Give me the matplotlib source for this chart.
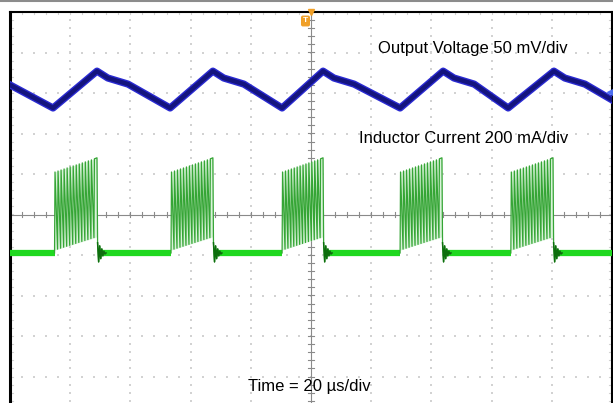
import numpy as np
import matplotlib.pyplot as plt
from matplotlib.lines import Line2D

# scope settings
t_per_div = 20.0     # us/div
v_per_div = 50.0     # mV/div
i_per_div = 200.0    # mA/div
ch1_pos = 3.08       # div, output voltage trace position
ch2_pos = -0.95      # div, inductor current trace position

# output voltage ripple (mV around its mean), corners of the triangle wave
vout_t = [-100, -85.7,
          -71.1, -67.5, -60.8, -46.8,
          -32.6, -29.0, -22.3, -9.6,
          4.0, 7.6, 14.3, 29.6,
          43.9, 47.5, 54.2, 65.5,
          80.7, 84.3, 91.0, 100]
vout_mv = [6, -22.5,
           23, 14.5, 7, -22.5,
           23, 14.5, 7, -22.5,
           23, 14.5, 7, -22.5,
           23, 14.5, 7, -22.5,
           23, 14.5, 7, -12.5]

# inductor current bursts (us) and their envelopes (mA)
burst_start = [-85.2, -46.5, -9.6, 29.6, 66.4]
burst_end = [-71.1, -32.6, 4.0, 43.5, 80.4]
n_pulses = 14
il_peak = [400, 470]     # upper envelope, start / end of burst
il_valley = [14, 80]     # lower envelope, start / end of burst
il_idle = 0
ring_ma = [50, -44, 35, -28, 20, -14, 9, -5, 0]

W, H = 613, 403
fig = plt.figure(figsize=(W / 100, H / 100), dpi=100)
plt.rcParams['font.family'] = ['Liberation Sans', 'DejaVu Sans']

ax = fig.add_axes([10 / W, 0, 602 / W, 391 / H])
ybot = 5 - 391 / 40.5
ax.set_xlim(-100, 100)
ax.set_ylim(ybot, 5)
ax.set_xticks([])
ax.set_yticks([])
for s in ['top', 'right']:
    ax.spines[s].set_linewidth(1.5)
ax.spines['left'].set_linewidth(2.2)
ax.spines['bottom'].set_visible(False)

# graticule dots
gc = '#d2d2d2'
xd = np.arange(-100, 100.1, 4)
yd = np.arange(-5, 5.01, 0.2)
for gx in np.arange(-80, 81, 20):
    if gx == 0:
        continue
    ax.scatter(np.full(len(yd), gx), yd, s=2, marker='s', color=gc, lw=0, zorder=1)
for gy in range(-4, 5):
    if gy == 0:
        continue
    ax.scatter(xd, np.full(len(xd), gy), s=2, marker='s', color=gc, lw=0, zorder=1)
# edge ticks
for yy in yd:
    ax.plot([-100, -99], [yy, yy], color=gc, lw=0.8, zorder=1)
    ax.plot([99, 100], [yy, yy], color=gc, lw=0.8, zorder=1)
for xx in xd:
    ax.plot([xx, xx], [4.95, 5], color=gc, lw=0.8, zorder=1)

# center cross with ticks
cc = '#8a8a8a'
ax.axvline(0, color=cc, lw=0.8, zorder=1)
ax.axhline(0, color=cc, lw=0.8, zorder=1)
for yy in yd:
    ax.plot([-1, 1], [yy, yy], color=cc, lw=0.8, zorder=1)
for xx in xd:
    ax.plot([xx, xx], [-0.07, 0.07], color=cc, lw=0.8, zorder=1)

# output voltage
vy = [ch1_pos + v / v_per_div for v in vout_mv]
ax.plot(vout_t, vy, color='#2a2ad2', lw=5.2, solid_joinstyle='round', zorder=3)
ax.plot(vout_t, vy, color='#14147e', lw=3.2, solid_joinstyle='round', zorder=4)

# inductor current: idle segments
idle_y = ch2_pos + il_idle / i_per_div
seg_a = [-100] + [e + 0.4 for e in burst_end]
seg_b = burst_start + [100]
for a, b in zip(seg_a, seg_b):
    ax.plot([a, b], [idle_y, idle_y], color='#1fd81f', lw=4.5, solid_capstyle='butt', zorder=3)

# bursts
for t0, t1 in zip(burst_start, burst_end):
    dt = (t1 - t0) / n_pulses
    ts = [t0]
    ys = [il_idle]
    for j in range(n_pulses):
        f = j / n_pulses
        ts += [t0 + j * dt + 0.15 * dt, t0 + (j + 1) * dt]
        ys += [il_peak[0] + (il_peak[1] - il_peak[0]) * f,
               il_valley[0] + (il_valley[1] - il_valley[0]) * (f + 1 / n_pulses)]
    ts[-1] = t1
    ys[-1] = il_peak[1]
    iy = [ch2_pos + v / i_per_div for v in ys]
    ax.fill_between([t0, t1],
                    [ch2_pos + v / i_per_div for v in il_valley],
                    [ch2_pos + v / i_per_div for v in il_peak],
                    color='#d9f3d9', lw=0, zorder=2)
    rt = [t1 + 0.2 + 0.35 * r for r in range(len(ring_ma))]
    ry = [ch2_pos + v / i_per_div for v in ring_ma]
    ax.plot(ts + rt, iy + ry, color='#35a535', lw=0.9, zorder=5)
    ax.plot(rt, ry, color='#0d6e0d', lw=1.1, zorder=6)

# labels
def fx(px):
    return px / W

def fy(py):
    return 1 - py / H

fig.text(fx(568), fy(53), 'Output Voltage 50 mV/div', fontsize=12, ha='right', va='baseline')
fig.text(fx(568), fy(143), 'Inductor Current 200 mA/div', fontsize=12, ha='right', va='baseline')
fig.text(fx(248), fy(391), 'Time = 20 µs/div', fontsize=12, ha='left', va='baseline')

# trigger marker and channel marker
fig.text(fx(305.5), fy(21), 'T', fontsize=6, color='white', weight='bold', ha='center', va='center',
         bbox=dict(boxstyle='round,pad=0.15', fc='#f0a028', ec='#f0a028'))
ax.plot([0], [5], marker='v', color='#f0a028', ms=4, clip_on=False, zorder=7)
ax.plot([99.3], [ch1_pos + vout_mv[-1] / v_per_div + 0.2], marker='<', color='#4a6cf0', ms=4,
        clip_on=False, zorder=7)

fig.add_artist(Line2D([0, 1], [fy(0.8), fy(0.8)], color='#8c8c8c', lw=1.5, transform=fig.transFigure))

plt.savefig('out.png', dpi=100)
